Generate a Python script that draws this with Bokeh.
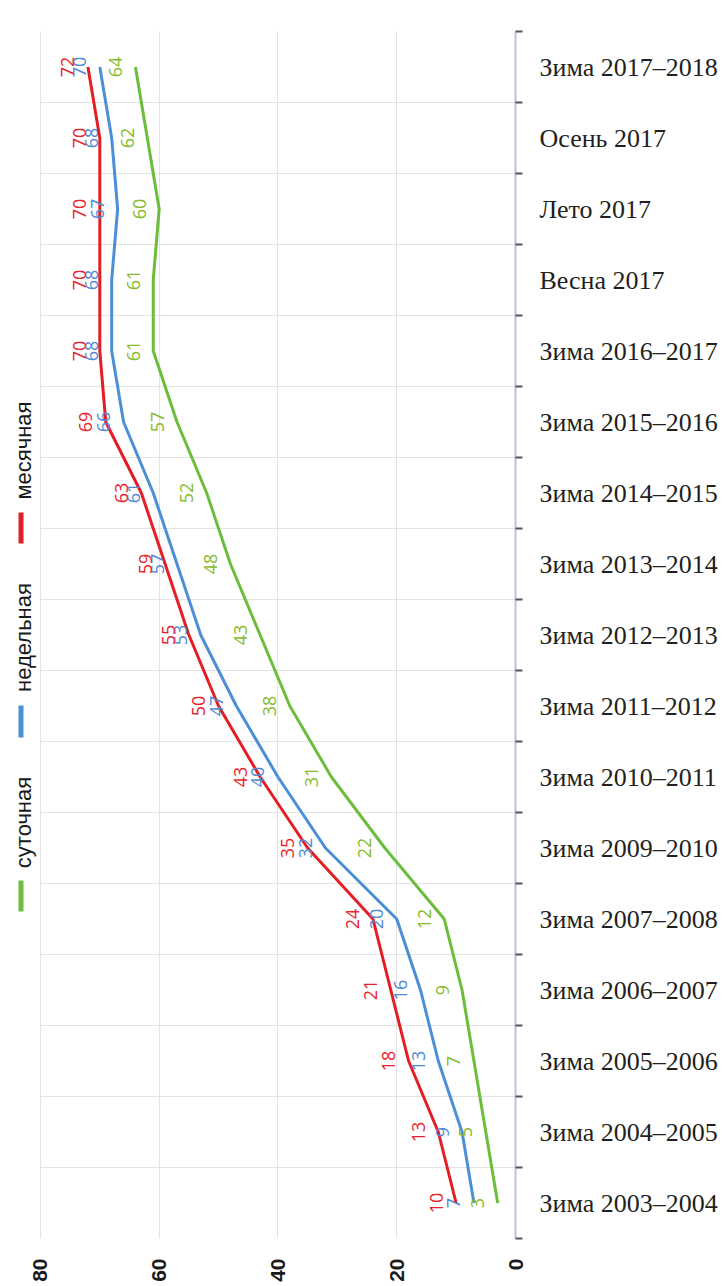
import math
from bokeh.plotting import figure
from bokeh.models import (Range1d, FixedTicker, CustomJSTickFormatter, ColumnDataSource,
                          Label, BoxAnnotation)
from bokeh.embed import file_html
from bokeh.resources import INLINE
from bokeh.core.properties import value

# ---- data (bottom to top) ----
categories = ["Зима 2003–2004", "Зима 2004–2005", "Зима 2005–2006", "Зима 2006–2007",
              "Зима 2007–2008", "Зима 2009–2010", "Зима 2010–2011", "Зима 2011–2012",
              "Зима 2012–2013", "Зима 2013–2014", "Зима 2014–2015", "Зима 2015–2016",
              "Зима 2016–2017", "Весна 2017", "Лето 2017", "Осень 2017", "Зима 2017–2018"]
daily = [3, 5, 7, 9, 12, 22, 31, 38, 43, 48, 52, 57, 61, 61, 60, 62, 64]
weekly = [7, 9, 13, 16, 20, 32, 40, 47, 53, 57, 61, 66, 68, 68, 67, 68, 70]
monthly = [10, 13, 18, 21, 24, 35, 43, 50, 55, 59, 63, 69, 70, 70, 70, 70, 72]
series_names = ["суточная", "недельная", "месячная"]
value_ticks = [0, 20, 40, 60, 80]

line_colors = ["#6cbd3c", "#4c8fd6", "#e31e24"]
label_colors = ["#86bb2a", "#4f8ad6", "#e8232d"]

H = 1284
n = len(categories)
pos = [i + 0.5 for i in range(n)]
vmax = max(value_ticks)
x_start = vmax * 516 / 476   # extra room on the left for the rotated legend

p = figure(width=720, height=H, x_range=Range1d(x_start, 0), y_range=Range1d(0, n),
           y_axis_location="right", output_backend="svg", toolbar_location=None,
           min_border_left=0, min_border_right=204, min_border_top=31, min_border_bottom=H - 1243)
p.outline_line_color = None
p.background_fill_color = "white"
p.border_fill_color = "white"

# category axis (right)
yax = p.yaxis[0]
yax.ticker = FixedTicker(ticks=pos, minor_ticks=list(range(n + 1)))
yax.formatter = CustomJSTickFormatter(args=dict(labels=categories),
    code="const i = Math.floor(tick); return (i >= 0 && i < labels.length) ? labels[i] : '';")
yax.major_tick_out = 0
yax.major_tick_in = 0
yax.minor_tick_out = 7
yax.minor_tick_in = 0
yax.minor_tick_line_color = "#555555"
yax.minor_tick_line_width = 2
yax.axis_line_color = "#b8c6da"
yax.axis_line_width = 2
yax.major_label_text_font = "Liberation Serif"
yax.major_label_text_font_size = "26px"
yax.major_label_text_color = "#231f20"
yax.major_label_standoff = 17

# value axis (bottom, rotated labels)
xax = p.xaxis[0]
xax.ticker = FixedTicker(ticks=value_ticks)
xax.major_label_orientation = math.pi / 2
xax.axis_line_color = None
xax.major_tick_line_color = None
xax.minor_tick_line_color = None
xax.major_label_standoff = 14
xax.major_label_text_font = "Liberation Sans"
xax.major_label_text_font_style = "bold"
xax.major_label_text_font_size = "21px"
xax.major_label_text_color = "#1a1a1a"

p.xgrid.ticker = FixedTicker(ticks=value_ticks)
p.ygrid.ticker = FixedTicker(ticks=list(range(n + 1)))
p.ygrid.cross_bounds = (0, vmax)
p.xgrid.grid_line_color = "#e4e4e4"
p.ygrid.grid_line_color = "#e4e4e4"

all_series = [daily, weekly, monthly]
for vals, lc in zip(all_series, line_colors):
    src = ColumnDataSource(dict(v=vals, pos=pos))
    p.line(x="v", y="pos", source=src, line_color=lc, line_width=3)

for vals, tc in zip(all_series, label_colors):
    src = ColumnDataSource(dict(v=vals, pos=pos, lbl=[str(v) for v in vals]))
    p.text(x="v", y="pos", text="lbl", source=src, angle=math.pi / 2, x_offset=-20,
           text_align="center", text_baseline="middle", text_color=tc,
           text_font=value("Open Sans"), text_font_size="18px")

# rotated legend on the left (screen units, relative to the frame)
legend_text_y = {"месячная": 455, "недельная": 642, "суточная": 827}
legend_mark_y = {"месячная": (517, 548), "недельная": (710, 742), "суточная": (885, 916)}
frame_bottom = 1243
for name, lc in zip(series_names, line_colors):
    p.add_layout(Label(x=23, y=frame_bottom - legend_text_y[name], x_units="screen",
                       y_units="screen", text=name, angle=math.pi / 2,
                       text_align="center", text_baseline="middle",
                       text_font="Liberation Sans", text_font_size="22px",
                       text_color="#1a1a1a"))
    t0, t1 = legend_mark_y[name]
    p.add_layout(BoxAnnotation(left=18, right=23, top=frame_bottom - t0, bottom=frame_bottom - t1,
                               left_units="screen", right_units="screen",
                               top_units="screen", bottom_units="screen",
                               fill_color=lc, fill_alpha=1.0, line_color=None))

open("out.html", "w").write(file_html(p, INLINE))
